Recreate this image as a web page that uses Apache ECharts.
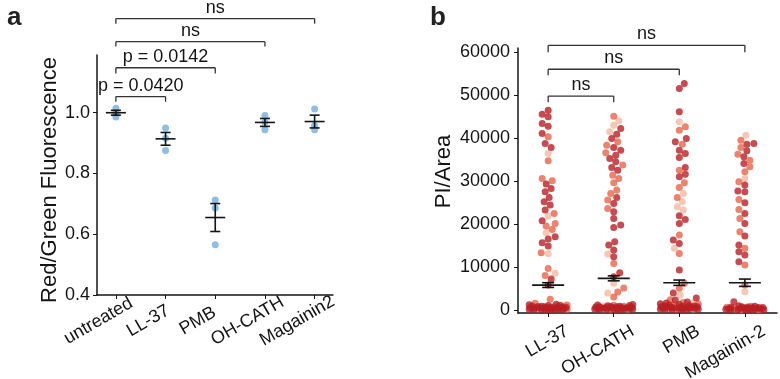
<!DOCTYPE html>
<html lang="en">
<head>
    <meta charset="UTF-8">
    <title>Fluorescence and PI/Area</title>
    <script src="https://cdn.jsdelivr.net/npm/echarts@6/dist/echarts.min.js"></script>
</head>
<body style="margin:0;background:#fff;">
    <div id="main" style="width: 780px;height:379px;"></div>

    <script type="text/javascript">

        // panel a: red/green fluorescence, three replicates per treatment
        var aCats = ['untreated', 'LL-37', 'PMB', 'OH-CATH', 'Magainin2'];
        var aDots = [
            [1.015, 1.000, 0.986],
            [0.950, 0.916, 0.876],
            [0.713, 0.686, 0.565],
            [0.991, 0.969, 0.944],
            [1.012, 0.958, 0.944]
        ];
        var aMean = [1.000, 0.914, 0.655, 0.968, 0.971];
        var aSem = [0.008, 0.021, 0.046, 0.013, 0.021];
        var aTicks = [0.4, 0.6, 0.8, 1.0];
        var aPairs = [[0, 1], [0, 2], [0, 3], [0, 4]];
        var aPText = ['p = 0.0420', 'p = 0.0142', 'ns', 'ns'];
        var aPTop = [1.053, 1.148, 1.234, 1.310];
        var aPEnd = [1.036, 1.129, 1.218, 1.293];

        // panel b: PI/Area per cell, three replicates (dark, medium, light)
        var bCats = ['LL-37', 'OH-CATH', 'PMB', 'Magainin-2'];
        var bMean = [5800, 7370, 6350, 6350];
        var bSem = [550, 580, 620, 850];
        var bTicks = [0, 10000, 20000, 30000, 40000, 50000, 60000];
        var bPairs = [[0, 1], [0, 2], [0, 3]];
        var bPText = ['ns', 'ns', 'ns'];
        var bPTop = [49800, 56050, 61630];
        var bPEnd = [48380, 54650, 60000];

        var llDark = [46520, 45590, 44970, 43420, 42800, 41090, 38770, 37840, 29310, 28300, 27520, 26210,
            25200, 24420, 23260, 20780, 17060, 16510, 15660, 14890, 7210, 5815,
            60, 110, 160, 200, 240, 280, 320, 360, 400, 440, 480, 520, 570, 620, 680, 740, 800, 870,
            940, 1020, 1100, 1200, 1350, 90, 140, 260, 380, 460, 600, 720];
        var llMed = [40320, 34730, 30630, 30080, 22490, 20160, 19540, 18760, 13340, 9690, 8060, 2480, 1550,
            180, 340, 500, 660, 900, 1150];
        var llLight = [36440, 21860, 17990, 13180, 8530, 300, 780];

        var ohDark = [42250, 40940, 39930, 37840, 37220, 36050, 35280, 34500, 33190, 32560, 26210, 24810,
            22870, 21320, 19770, 19230, 15890, 15120, 13960, 12410, 8680, 7760,
            70, 120, 170, 210, 250, 290, 330, 370, 410, 450, 500, 550, 610, 670, 730, 800, 880, 960,
            1050, 1150, 1280, 100, 230, 350, 470, 590, 710];
        var ohMed = [45120, 39150, 38380, 36600, 33730, 31400, 30630, 29610, 27910, 27140, 25590, 23650,
            10850, 5100, 4200, 3000, 150, 310, 480, 650, 850, 1100];
        var ohLight = [44040, 43030, 41480, 13030, 6200, 3950, 260, 920];

        var pmbDark = [52720, 51560, 46130, 39930, 39150, 37220, 36440, 35510, 33190, 31630, 31010, 21940,
            21090, 20160, 16280, 15510, 9300, 3950, 2800, 2300,
            80, 130, 180, 230, 280, 330, 380, 430, 490, 550, 620, 700, 780, 870, 960, 1060, 1180, 1320,
            1480, 1650, 1850, 110, 260, 410, 570, 740, 920];
        var pmbMed = [42640, 41870, 38610, 32560, 29610, 28530, 26210, 17450, 13180, 6200, 5040, 2400,
            160, 360, 600, 850, 1120, 1400, 1750];
        var pmbLight = [43800, 27140, 25200, 24040, 23260, 14350, 3490, 300, 1000, 1600];

        var magDark = [38770, 38600, 37060, 35670, 34120, 29080, 27700, 27520, 24960, 22490, 20160, 17210,
            15120, 13570, 12790, 11240, 1940,
            20, 60, 100, 140, 180, 220, 260, 300, 340, 390, 440, 500, 560, 630, 700, 780, 870, 960,
            40, 160, 280, 420, 580];
        var magMed = [39540, 37840, 36290, 34890, 33330, 32170, 29840, 25740, 23420, 21320, 18220, 14350,
            10470, 5815, 80, 240, 400, 620, 850];
        var magLight = [40700, 30630, 4260, 200, 520];

        var reps = [
            { color: '#f4b9a1', data: [llLight, ohLight, pmbLight, magLight] },
            { color: '#e8644a', data: [llMed, ohMed, pmbMed, magMed] },
            { color: '#b81f26', data: [llDark, ohDark, pmbDark, magDark] }
        ];

        var font = "'Liberation Sans', Arial, sans-serif";
        var ink = '#141414';

        var aData = [];
        aDots.forEach(function (vals, i) {
            vals.forEach(function (v) { aData.push([i, v]); });
        });

        function errorBar(half, cap) {
            return function (params, api) {
                var x = api.value(0), m = api.value(1), s = api.value(2);
                var c = api.coord([x, m]);
                var t = api.coord([x, m + s]);
                var b = api.coord([x, m - s]);
                var st = { stroke: ink, lineWidth: 1.6 };
                return {
                    type: 'group',
                    children: [
                        { type: 'line', shape: { x1: c[0] - half, y1: c[1], x2: c[0] + half, y2: c[1] }, style: st },
                        { type: 'line', shape: { x1: t[0], y1: t[1], x2: b[0], y2: b[1] }, style: st },
                        { type: 'line', shape: { x1: t[0] - cap, y1: t[1], x2: t[0] + cap, y2: t[1] }, style: st },
                        { type: 'line', shape: { x1: b[0] - cap, y1: b[1], x2: b[0] + cap, y2: b[1] }, style: st }
                    ]
                };
            };
        }

        // data item: [x1, top, x2, end]
        function bracket(texts) {
            return function (params, api) {
                var x1 = api.value(0), top = api.value(1), x2 = api.value(2), end = api.value(3);
                var p1 = api.coord([x1, end]), p2 = api.coord([x1, top]);
                var p3 = api.coord([x2, top]), p4 = api.coord([x2, end]);
                var st = { stroke: '#333', lineWidth: 1.3 };
                return {
                    type: 'group',
                    children: [
                        { type: 'line', shape: { x1: p1[0], y1: p1[1], x2: p2[0], y2: p2[1] }, style: st },
                        { type: 'line', shape: { x1: p2[0], y1: p2[1], x2: p3[0], y2: p3[1] }, style: st },
                        { type: 'line', shape: { x1: p3[0], y1: p3[1], x2: p4[0], y2: p4[1] }, style: st },
                        {
                            type: 'text',
                            x: (p2[0] + p3[0]) / 2,
                            y: p2[1] - 2,
                            style: {
                                text: texts[params.dataIndex], fontSize: 18, fontFamily: font,
                                fill: ink, align: 'center', verticalAlign: 'bottom'
                            }
                        }
                    ]
                };
            };
        }

        function pairData(pairs, tops, ends) {
            return pairs.map(function (p, i) { return [p[0], tops[i], p[1], ends[i]]; });
        }

        // rotated category names under panel b, right end just past the tick
        function catLabel(params, api) {
            var p = api.coord([api.value(0), api.value(1)]);
            return {
                type: 'text',
                x: p[0] + 19,
                y: p[1] + 17,
                rotation: Math.PI / 6,
                style: {
                    text: bCats[params.dataIndex], fontSize: 18, fontFamily: font,
                    fill: ink, align: 'right', verticalAlign: 'middle'
                }
            };
        }

        var aShift = -0.35;
        var bYMin = -700;

        var axisLine = { onZero: false, lineStyle: { color: ink, width: 1.5 } };

        var option = {
            animation: false,
            title: [
                { text: 'a', left: 2, top: 0, textStyle: { fontSize: 26, fontWeight: 'bold', color: '#222', fontFamily: font } },
                { text: 'b', left: 425, top: 0, textStyle: { fontSize: 26, fontWeight: 'bold', color: '#222', fontFamily: font } }
            ],
            grid: [
                { left: 97, top: 55, width: 236, height: 240 },
                { left: 518, top: 48, width: 259, height: 265 }
            ],
            xAxis: [
                {
                    type: 'value', gridIndex: 0, min: -0.38, max: 4.37,
                    axisLine: axisLine, splitLine: { show: false },
                    axisTick: { length: 4, lineStyle: { color: ink }, customValues: [0, 1, 2, 3, 4] },
                    axisLabel: {
                        customValues: aCats.map(function (c, i) { return i + aShift; }),
                        formatter: function (v) { return aCats[Math.round(v - aShift)]; },
                        rotate: 30, align: 'center', verticalAlign: 'middle', margin: 26,
                        fontSize: 18, color: ink, fontFamily: font
                    }
                },
                {
                    type: 'value', gridIndex: 1, min: -0.46, max: 3.49,
                    axisLine: axisLine, splitLine: { show: false },
                    axisTick: { length: 4, lineStyle: { color: ink }, customValues: [0, 1, 2, 3] },
                    axisLabel: { show: false }
                }
            ],
            yAxis: [
                {
                    type: 'value', gridIndex: 0, min: 0.4, max: 1.19,
                    axisLine: { show: true, onZero: false, lineStyle: { color: ink, width: 1.5 } },
                    splitLine: { show: false },
                    axisTick: { show: true, length: 4, lineStyle: { color: ink }, customValues: aTicks },
                    axisLabel: {
                        customValues: aTicks, formatter: function (v) { return v.toFixed(1); },
                        margin: 7, fontSize: 18, color: ink, fontFamily: font
                    },
                    name: 'Red/Green Fluorescence', nameLocation: 'middle', nameGap: 36,
                    nameTextStyle: { fontSize: 22, color: ink, fontFamily: font, padding: [0, 10, 0, 0] }
                },
                {
                    type: 'value', gridIndex: 1, min: bYMin, max: 61000,
                    axisLine: { show: true, onZero: false, lineStyle: { color: ink, width: 1.5 } },
                    splitLine: { show: false },
                    axisTick: { show: true, length: 4, lineStyle: { color: ink }, customValues: bTicks },
                    axisLabel: {
                        customValues: bTicks, formatter: function (v) { return String(v); },
                        margin: 8, fontSize: 18, color: ink, fontFamily: font
                    },
                    name: 'PI/Area', nameLocation: 'middle', nameGap: 63,
                    nameTextStyle: { fontSize: 22, color: ink, fontFamily: font, padding: [0, 0, 0, 18] }
                }
            ],
            series: [
                {
                    type: 'scatter', xAxisIndex: 0, yAxisIndex: 0, data: aData,
                    symbolSize: 7, itemStyle: { color: '#72acdf' }
                },
                {
                    type: 'custom', xAxisIndex: 0, yAxisIndex: 0, z: 5,
                    data: aMean.map(function (m, i) { return [i, m, aSem[i]]; }),
                    renderItem: errorBar(10, 5)
                },
                {
                    type: 'custom', xAxisIndex: 0, yAxisIndex: 0, clip: false,
                    data: pairData(aPairs, aPTop, aPEnd),
                    renderItem: bracket(aPText)
                }
            ]
        };

        reps.forEach(function (r, ri) {
            var d = [];
            r.data.forEach(function (vals, ci) {
                vals.forEach(function (v) { d.push([ci, v]); });
            });
            option.series.push({
                id: 'rep' + ri, type: 'scatter', xAxisIndex: 1, yAxisIndex: 1, data: d,
                symbolSize: 7, itemStyle: { color: r.color }
            });
        });

        option.series.push({
            type: 'custom', xAxisIndex: 1, yAxisIndex: 1, z: 5,
            data: bMean.map(function (m, i) { return [i, m, bSem[i]]; }),
            renderItem: errorBar(16, 6)
        });
        option.series.push({
            type: 'custom', xAxisIndex: 1, yAxisIndex: 1, clip: false,
            data: pairData(bPairs, bPTop, bPEnd),
            renderItem: bracket(bPText)
        });
        option.series.push({
            type: 'custom', xAxisIndex: 1, yAxisIndex: 1, clip: false, silent: true,
            data: bCats.map(function (c, i) { return [i, bYMin]; }),
            renderItem: catLabel
        });

        var myChart = echarts.init(document.getElementById('main'));
        myChart.setOption(option);

        // beeswarm: spread points sideways so they do not overlap (in pixels)
        var DIAM = 6.5, CAP = 19;
        var p0 = myChart.convertToPixel({ gridIndex: 1 }, [0, 0]);
        var p1 = myChart.convertToPixel({ gridIndex: 1 }, [1, 0]);
        var unit = p1[0] - p0[0];
        var out = reps.map(function () { return []; });

        bCats.forEach(function (c, ci) {
            var pts = [];
            reps.forEach(function (r, ri) {
                r.data[ci].forEach(function (v) {
                    pts.push({ r: ri, v: v, y: myChart.convertToPixel({ gridIndex: 1 }, [ci, v])[1] });
                });
            });
            pts.sort(function (a, b) { return a.v - b.v; });
            var placed = [];
            pts.forEach(function (p, n) {
                var best = 0, bestD = -1;
                var sign = n % 2 ? 1 : -1;
                for (var k = 0; k <= 2 * CAP; k++) {
                    var off = k === 0 ? 0 : (k % 2 ? sign * (k + 1) / 2 : -sign * k / 2);
                    var md = Infinity;
                    for (var j = 0; j < placed.length; j++) {
                        var dx = off - placed[j].x, dy = p.y - placed[j].y;
                        var dd = dx * dx + dy * dy;
                        if (dd < md) md = dd;
                    }
                    if (md >= DIAM * DIAM) { best = off; break; }
                    if (md > bestD) { bestD = md; best = off; }
                }
                placed.push({ x: best, y: p.y });
                out[p.r].push([ci + best / unit, p.v]);
            });
        });

        myChart.setOption({
            series: out.map(function (d, ri) { return { id: 'rep' + ri, data: d }; })
        });
    </script>
</body>
</html>
